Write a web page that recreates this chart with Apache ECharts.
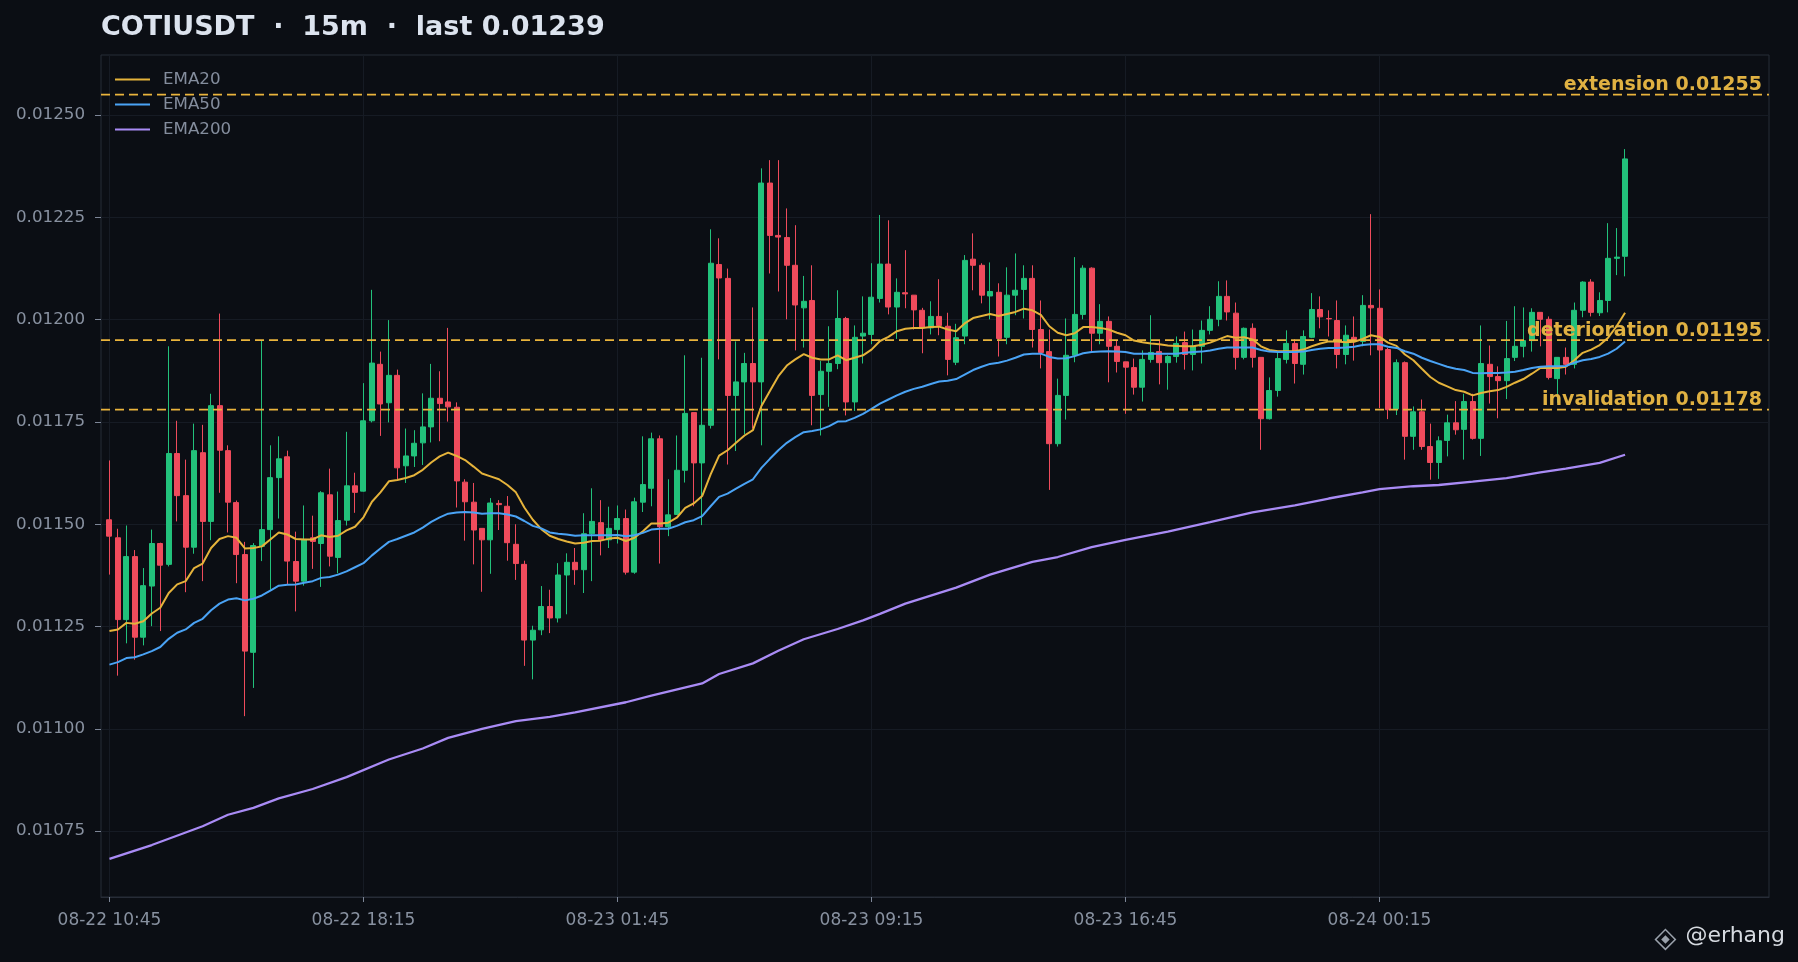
<!DOCTYPE html>
<html>
<head>
<meta charset="utf-8">
<script src="https://cdn.jsdelivr.net/npm/echarts@6/dist/echarts.min.js"></script>
<style>
html,body{margin:0;padding:0;background:#0b0e14;}
#chart{width:1798px;height:962px;}
</style>
</head>
<body>
<div id="chart"></div>
<script>
// ---------------- data ----------------
const symbol = 'COTIUSDT';
const timeframe = '15m';
const lastPrice = '0.01239';

// start of the first candle and candle step
const startMonth = '08';
const startDay = 22;
const startMinuteOfDay = 10 * 60 + 45;
const stepMinutes = 15;

// candles: [open, close, low, high]
const candles = [
[0.011511,0.011471,0.011377,0.011656],[0.011467,0.011267,0.011130,0.011489],[0.011267,0.011421,0.011209,0.011497],[0.011421,0.011224,0.011169,0.011437],[0.011224,0.011350,0.011204,0.011393],
[0.011349,0.011453,0.011251,0.011487],[0.011453,0.011400,0.011239,0.011455],[0.011402,0.011673,0.011397,0.011935],[0.011673,0.011570,0.011507,0.011753],[0.011570,0.011444,0.011334,0.011658],
[0.011444,0.011680,0.011428,0.011746],[0.011675,0.011507,0.011361,0.011743],[0.011507,0.011790,0.011461,0.011819],[0.011790,0.011681,0.011577,0.012015],[0.011680,0.011554,0.011480,0.011693],
[0.011553,0.011426,0.011356,0.011558],[0.011426,0.011190,0.011031,0.011457],[0.011187,0.011448,0.011100,0.011454],[0.011446,0.011487,0.011410,0.011950],[0.011487,0.011614,0.011340,0.011693],
[0.011614,0.011660,0.011514,0.011715],[0.011665,0.011410,0.011353,0.011680],[0.011409,0.011361,0.011287,0.011482],[0.011361,0.011463,0.011350,0.011546],[0.011467,0.011458,0.011391,0.011521],
[0.011453,0.011577,0.011347,0.011581],[0.011572,0.011422,0.011397,0.011636],[0.011419,0.011509,0.011380,0.011580],[0.011510,0.011594,0.011497,0.011726],[0.011594,0.011578,0.011528,0.011626],
[0.011581,0.011753,0.011580,0.011845],[0.011753,0.011894,0.011749,0.012073],[0.011891,0.011794,0.011716,0.011922],[0.011797,0.011864,0.011749,0.011999],[0.011864,0.011638,0.011610,0.011878],
[0.011643,0.011667,0.011601,0.011734],[0.011667,0.011698,0.011640,0.011730],[0.011699,0.011738,0.011645,0.011820],[0.011738,0.011808,0.011700,0.011892],[0.011808,0.011795,0.011703,0.011874],
[0.011799,0.011787,0.011751,0.011980],[0.011786,0.011606,0.011541,0.011798],[0.011603,0.011555,0.011460,0.011610],[0.011554,0.011486,0.011402,0.011601],[0.011490,0.011462,0.011335,0.011490],
[0.011462,0.011552,0.011379,0.011564],[0.011551,0.011548,0.011486,0.011559],[0.011544,0.011455,0.011411,0.011569],[0.011451,0.011404,0.011364,0.011500],[0.011402,0.011217,0.011154,0.011411],
[0.011217,0.011241,0.011121,0.011252],[0.011242,0.011299,0.011229,0.011349],[0.011299,0.011271,0.011234,0.011340],[0.011271,0.011376,0.011260,0.011405],[0.011376,0.011407,0.011280,0.011429],
[0.011407,0.011389,0.011352,0.011442],[0.011389,0.011477,0.011332,0.011527],[0.011477,0.011507,0.011361,0.011588],[0.011504,0.011462,0.011424,0.011559],[0.011462,0.011490,0.011442,0.011543],
[0.011487,0.011514,0.011453,0.011546],[0.011514,0.011383,0.011377,0.011536],[0.011383,0.011555,0.011379,0.011565],[0.011554,0.011597,0.011530,0.011715],[0.011588,0.011709,0.011544,0.011724],
[0.011709,0.011494,0.011404,0.011717],[0.011494,0.011523,0.011471,0.011610],[0.011524,0.011632,0.011524,0.011717],[0.011632,0.011771,0.011602,0.011913],[0.011773,0.011650,0.011544,0.011773],
[0.011650,0.011742,0.011498,0.011907],[0.011742,0.012138,0.011734,0.012221],[0.012135,0.012102,0.011903,0.012199],[0.012101,0.011815,0.011646,0.012125],[0.011815,0.011848,0.011679,0.011947],
[0.011848,0.011893,0.011720,0.011919],[0.011893,0.011848,0.011734,0.012030],[0.011848,0.012334,0.011693,0.012370],[0.012334,0.012206,0.012113,0.012390],[0.012206,0.012202,0.012069,0.012390],
[0.012201,0.012133,0.012001,0.012272],[0.012133,0.012036,0.011925,0.012231],[0.012029,0.012045,0.011932,0.012107],[0.012047,0.011815,0.011742,0.012133],[0.011817,0.011874,0.011717,0.011899],
[0.011874,0.011893,0.011787,0.011984],[0.011893,0.012003,0.011879,0.012072],[0.012003,0.011799,0.011766,0.012007],[0.011799,0.011957,0.011777,0.011986],[0.011960,0.011967,0.011893,0.012057],
[0.011964,0.012055,0.011940,0.012138],[0.012052,0.012136,0.012042,0.012256],[0.012136,0.012031,0.012013,0.012243],[0.012031,0.012067,0.011953,0.012101],[0.012066,0.012063,0.012028,0.012170],
[0.012060,0.012024,0.011976,0.012060],[0.012023,0.011980,0.011918,0.012029],[0.011980,0.012008,0.011964,0.012045],[0.012008,0.011986,0.011962,0.012099],[0.011984,0.011903,0.011864,0.012017],
[0.011896,0.011956,0.011889,0.011990],[0.011960,0.012145,0.011940,0.012158],[0.012148,0.012133,0.012072,0.012211],[0.012133,0.012060,0.012040,0.012138],[0.012058,0.012069,0.012001,0.012140],
[0.012067,0.011954,0.011910,0.012089],[0.011957,0.012060,0.011940,0.012128],[0.012060,0.012072,0.012011,0.012162],[0.012074,0.012101,0.012003,0.012133],[0.012101,0.011976,0.011932,0.012133],
[0.011976,0.011920,0.011881,0.012047],[0.011922,0.011697,0.011584,0.011976],[0.011697,0.011815,0.011690,0.011856],[0.011815,0.011913,0.011756,0.012003],[0.011913,0.012013,0.011896,0.012153],
[0.012013,0.012126,0.012001,0.012133],[0.012126,0.011967,0.011921,0.012128],[0.011967,0.011996,0.011940,0.012038],[0.011996,0.011935,0.011847,0.012008],[0.011935,0.011898,0.011871,0.011949],
[0.011897,0.011884,0.011770,0.011897],[0.011883,0.011835,0.011817,0.011905],[0.011835,0.011903,0.011800,0.011925],[0.011903,0.011920,0.011895,0.012011],[0.011922,0.011895,0.011842,0.011949],
[0.011895,0.011910,0.011829,0.011913],[0.011910,0.011942,0.011895,0.011959],[0.011944,0.011915,0.011878,0.011971],[0.011915,0.011935,0.011876,0.011976],[0.011935,0.011974,0.011893,0.011998],
[0.011974,0.012001,0.011964,0.012033],[0.012001,0.012057,0.011984,0.012094],[0.012057,0.012019,0.011998,0.012096],[0.012016,0.011908,0.011878,0.012042],[0.011908,0.011979,0.011903,0.011981],
[0.011979,0.011908,0.011883,0.011991],[0.011908,0.011758,0.011682,0.011908],[0.011758,0.011827,0.011756,0.011859],[0.011827,0.011905,0.011812,0.011922],[0.011903,0.011942,0.011893,0.011974],
[0.011942,0.011893,0.011844,0.011952],[0.011891,0.011959,0.011866,0.011974],[0.011957,0.012025,0.011955,0.012065],[0.012025,0.012007,0.011979,0.012057],[0.012003,0.012002,0.011959,0.012023],
[0.011998,0.011915,0.011881,0.012047],[0.011915,0.011962,0.011891,0.011986],[0.011957,0.011947,0.011900,0.012008],[0.011947,0.012035,0.011935,0.012060],[0.012035,0.012029,0.011913,0.012258],
[0.012028,0.011926,0.011784,0.012074],[0.011927,0.011780,0.011757,0.011931],[0.011782,0.011895,0.011767,0.011903],[0.011895,0.011715,0.011658,0.011898],[0.011715,0.011775,0.011682,0.011788],
[0.011775,0.011690,0.011682,0.011805],[0.011690,0.011651,0.011609,0.011746],[0.011651,0.011704,0.011611,0.011715],[0.011705,0.011748,0.011666,0.011768],[0.011748,0.011731,0.011719,0.011801],
[0.011732,0.011800,0.011658,0.011819],[0.011800,0.011710,0.011707,0.011819],[0.011710,0.011893,0.011667,0.011986],[0.011891,0.011861,0.011795,0.011937],[0.011861,0.011851,0.011759,0.011886],
[0.011851,0.011905,0.011806,0.011997],[0.011908,0.011935,0.011899,0.012033],[0.011935,0.011949,0.011908,0.012030],[0.011949,0.012018,0.011922,0.012028],[0.012018,0.012001,0.011935,0.012018],
[0.012001,0.011859,0.011854,0.012008],[0.011856,0.011908,0.011797,0.011908],[0.011908,0.011891,0.011866,0.011932],[0.011891,0.012023,0.011881,0.012042],[0.012023,0.012092,0.012006,0.012094],
[0.012092,0.012018,0.012008,0.012099],[0.012017,0.012047,0.012009,0.012067],[0.012047,0.012150,0.012018,0.012236],[0.012150,0.012153,0.012109,0.012224],[0.012155,0.012393,0.012106,0.012417]
];

const ema20 = [
0.011239,0.011243,0.011259,0.011257,0.011263,0.011282,0.011296,0.011332,0.011353,0.011361,
0.011393,0.011404,0.011442,0.011464,0.011471,0.011467,0.011441,0.011442,0.011446,0.011463,
0.011480,0.011475,0.011464,0.011463,0.011463,0.011473,0.011469,0.011472,0.011485,0.011494,
0.011517,0.011555,0.011578,0.011605,0.011608,0.011613,0.011620,0.011633,0.011651,0.011666,
0.011675,0.011667,0.011657,0.011641,0.011624,0.011617,0.011610,0.011596,0.011578,0.011541,
0.011511,0.011488,0.011472,0.011464,0.011458,0.011453,0.011455,0.011459,0.011460,0.011465,
0.011467,0.011459,0.011467,0.011483,0.011502,0.011502,0.011504,0.011516,0.011540,0.011551,
0.011569,0.011622,0.011668,0.011681,0.011699,0.011717,0.011730,0.011789,0.011826,0.011862,
0.011888,0.011903,0.011916,0.011907,0.011903,0.011903,0.011913,0.011901,0.011907,0.011913,
0.011927,0.011948,0.011958,0.011972,0.011978,0.011980,0.011980,0.011982,0.011983,0.011976,
0.011972,0.011991,0.012004,0.012009,0.012014,0.012009,0.012014,0.012019,0.012027,0.012023,
0.012012,0.011984,0.011968,0.011962,0.011967,0.011982,0.011982,0.011980,0.011976,0.011968,
0.011962,0.011949,0.011945,0.011942,0.011940,0.011937,0.011936,0.011935,0.011935,0.011939,
0.011944,0.011952,0.011960,0.011956,0.011957,0.011952,0.011935,0.011926,0.011923,0.011923,
0.011923,0.011927,0.011935,0.011942,0.011947,0.011947,0.011945,0.011946,0.011953,0.011962,
0.011958,0.011944,0.011936,0.011915,0.011901,0.011880,0.011860,0.011846,0.011837,0.011828,
0.011824,0.011815,0.011821,0.011825,0.011828,0.011836,0.011846,0.011855,0.011868,0.011882,
0.011882,0.011882,0.011885,0.011901,0.011919,0.011927,0.011938,0.011956,0.011984,0.012017
];

const ema50 = [
0.011157,0.011163,0.011173,0.011175,0.011182,0.011190,0.011200,0.011220,0.011235,0.011243,
0.011259,0.011269,0.011290,0.011306,0.011316,0.011319,0.011314,0.011318,0.011326,0.011338,
0.011350,0.011352,0.011353,0.011357,0.011361,0.011369,0.011371,0.011377,0.011385,0.011395,
0.011405,0.011424,0.011441,0.011457,0.011464,0.011472,0.011480,0.011492,0.011506,0.011517,
0.011526,0.011529,0.011530,0.011529,0.011526,0.011527,0.011527,0.011524,0.011519,0.011508,
0.011496,0.011490,0.011480,0.011477,0.011475,0.011472,0.011473,0.011473,0.011473,0.011473,
0.011474,0.011471,0.011473,0.011479,0.011487,0.011489,0.011489,0.011496,0.011505,0.011510,
0.011520,0.011544,0.011567,0.011575,0.011587,0.011599,0.011610,0.011638,0.011660,0.011681,
0.011699,0.011713,0.011725,0.011728,0.011732,0.011740,0.011751,0.011752,0.011760,0.011770,
0.011782,0.011795,0.011805,0.011815,0.011824,0.011831,0.011836,0.011843,0.011849,0.011851,
0.011855,0.011866,0.011877,0.011885,0.011892,0.011895,0.011900,0.011907,0.011915,0.011917,
0.011917,0.011909,0.011905,0.011906,0.011911,0.011918,0.011921,0.011922,0.011923,0.011922,
0.011921,0.011917,0.011917,0.011917,0.011917,0.011917,0.011917,0.011919,0.011921,0.011922,
0.011925,0.011929,0.011932,0.011932,0.011932,0.011932,0.011926,0.011922,0.011921,0.011921,
0.011921,0.011922,0.011926,0.011929,0.011931,0.011931,0.011932,0.011934,0.011938,0.011940,
0.011940,0.011934,0.011931,0.011923,0.011917,0.011907,0.011899,0.011892,0.011885,0.011880,
0.011877,0.011870,0.011869,0.011870,0.011870,0.011871,0.011873,0.011877,0.011882,0.011885,
0.011886,0.011886,0.011887,0.011895,0.011901,0.011904,0.011909,0.011917,0.011929,0.011947
];

// EMA200 read at these candle indices: [candleIndex, value]
const ema200Points = [
[0,0.010682],[5,0.010716],[11,0.010762],[14,0.010790],[17,0.010807],[20,0.010830],[24,0.010853],[28,0.010882],
[33,0.010925],[37,0.010952],[40,0.010978],[44,0.011000],[48,0.011019],[52,0.011029],[55,0.011040],[61,0.011065],
[64,0.011081],[70,0.011111],[72,0.011134],[76,0.011160],[79,0.011191],[82,0.011219],[86,0.011244],[89,0.011265],
[91,0.011281],[94,0.011306],[100,0.011345],[104,0.011377],[109,0.011408],[112,0.011420],[116,0.011444],[120,0.011462],
[125,0.011482],[130,0.011505],[135,0.011529],[140,0.011546],[144,0.011563],[148,0.011578],[150,0.011586],[154,0.011593],
[157,0.011596],[161,0.011604],[165,0.011613],[169,0.011627],[172,0.011636],[176,0.011650],[179,0.011670]
];

const levelNames = ['extension', 'deterioration', 'invalidation'];
const levelValues = [0.01255, 0.01195, 0.01178];

const yTickValues = [0.01075, 0.01100, 0.01125, 0.01150, 0.01175, 0.01200, 0.01225, 0.01250];
const xLabelEvery = 30;

// ---------------- build ----------------
const FONT = 'DejaVu Sans';
const pad2 = n => String(n).padStart(2, '0');
const times = candles.map((_, i) => {
  const t = startMinuteOfDay + i * stepMinutes;
  const d = startDay + Math.floor(t / 1440);
  const m = t % 1440;
  return startMonth + '-' + pad2(d) + ' ' + pad2(Math.floor(m / 60)) + ':' + pad2(m % 60);
});
const LEAD = 1, TRAIL = 17;
const xCats = ['pad-start'].concat(times, Array.from({length: TRAIL}, (_, k) => 'pad-end-' + k));
const LAST_CAT = xCats.length - 1;
const showAt = (idx) => idx >= LEAD && idx < LEAD + candles.length && (idx - LEAD) % xLabelEvery === 0;

const candleData = candles.map((c, i) => [i + LEAD, c[0], c[1], c[2], c[3]]);
const lineData = arr => arr.map((v, i) => [i + LEAD, v]);

const UP = '#22c17b', DOWN = '#ef4b5c';
const C20 = '#e5b33b', C50 = '#4aa3f5', C200 = '#a98bf5';
const LEVEL = '#eab43c', LEVEL_TXT = '#e0b142';
const GRIDLINE = '#161b24', AXISTXT = '#8891a0';

const levelSeries = levelValues.map((v, i) => ({
  name: 'level-' + levelNames[i], type: 'line', z: 5,
  data: [[0, v], [LAST_CAT, v]],
  showSymbol: false, symbol: 'none', silent: true,
  lineStyle: {color: LEVEL, type: [9, 5], width: 1.8},
  endLabel: {
    show: true, align: 'right', verticalAlign: 'bottom', distance: 0, offset: [-7, 0],
    color: LEVEL_TXT, fontSize: 19, fontWeight: 'bold', fontFamily: FONT,
    formatter: () => levelNames[i] + ' ' + v.toFixed(5)
  }
}));

const chart = echarts.init(document.getElementById('chart'), null, {renderer: 'canvas'});
chart.setOption({
  animation: false,
  backgroundColor: '#0b0e14',
  textStyle: {fontFamily: FONT},
  title: {
    text: symbol + '  ·  ' + timeframe + '  ·  last ' + lastPrice,
    left: 101, top: 14, padding: 0,
    textStyle: {color: '#dce3ee', fontSize: 27, fontWeight: 'bold', fontFamily: FONT}
  },
  legend: {
    orient: 'vertical', left: 115, top: 71, itemGap: 8, padding: 0,
    itemWidth: 35, itemHeight: 2, icon: 'rect',
    data: ['EMA20', 'EMA50', 'EMA200'],
    textStyle: {color: '#848d9d', fontSize: 16.7, fontFamily: FONT, padding: [0, 0, 0, 8]}
  },
  grid: {left: 101, right: 29, top: 55, bottom: 65, show: true, borderColor: '#272c37', borderWidth: 1,
         backgroundColor: 'transparent', containLabel: false, outerBoundsMode: 'none'},
  xAxis: {
    type: 'category', data: xCats, boundaryGap: false,
    axisLine: {show: true, lineStyle: {color: '#272c37', width: 1}},
    axisTick: {show: true, interval: showAt, length: 5, lineStyle: {color: '#7d8697'}},
    axisLabel: {interval: showAt, color: AXISTXT, fontSize: 17, fontFamily: FONT, margin: 15},
    splitLine: {show: true, interval: showAt, lineStyle: {color: GRIDLINE, width: 1}}
  },
  yAxis: {
    type: 'value', min: 0.010589, max: 0.012647, scale: true,
    axisLine: {show: false},
    axisTick: {show: true, customValues: yTickValues, length: 6, lineStyle: {color: '#7d8697'}},
    axisLabel: {customValues: yTickValues, color: AXISTXT, fontSize: 16.7, fontFamily: FONT, margin: 16,
                formatter: v => v.toFixed(5)},
    splitLine: {show: true, lineStyle: {color: GRIDLINE, width: 1}}
  },
  series: [
    {
      name: 'candles', type: 'candlestick', data: candleData,
      dimensions: ['idx', 'open', 'close', 'low', 'high'],
      encode: {x: 'idx', y: ['open', 'close', 'low', 'high']},
      barWidth: '65%',
      itemStyle: {color: UP, color0: DOWN, borderColor: UP, borderColor0: DOWN, borderWidth: 1},
      z: 3
    },
    {name: 'EMA20', type: 'line', data: lineData(ema20), showSymbol: false, symbol: 'none',
     lineStyle: {color: C20, width: 2}, itemStyle: {color: C20}, z: 4},
    {name: 'EMA50', type: 'line', data: lineData(ema50), showSymbol: false, symbol: 'none',
     lineStyle: {color: C50, width: 2}, itemStyle: {color: C50}, z: 4},
    {name: 'EMA200', type: 'line', data: ema200Points.map(p => [p[0] + LEAD, p[1]]), showSymbol: false, symbol: 'none',
     lineStyle: {color: C200, width: 2.3}, itemStyle: {color: C200}, z: 4}
  ].concat(levelSeries),
  graphic: [
    {type: 'group', left: 1652, top: 926, children: [
      {type: 'rect', shape: {x: -7, y: -7, width: 14, height: 14}, rotation: Math.PI / 4, x: 11, y: 11,
       style: {fill: 'none', stroke: '#9aa1ab', lineWidth: 1.5}},
      {type: 'rect', shape: {x: -3, y: -3, width: 6, height: 6}, rotation: Math.PI / 4, x: 11, y: 11,
       style: {fill: '#9aa1ab'}}
    ]},
    {type: 'text', right: 13, top: 925, style: {text: '@erhang', fill: '#d6dae0', fontSize: 22, fontFamily: FONT}}
  ]
});
</script>
</body>
</html>
